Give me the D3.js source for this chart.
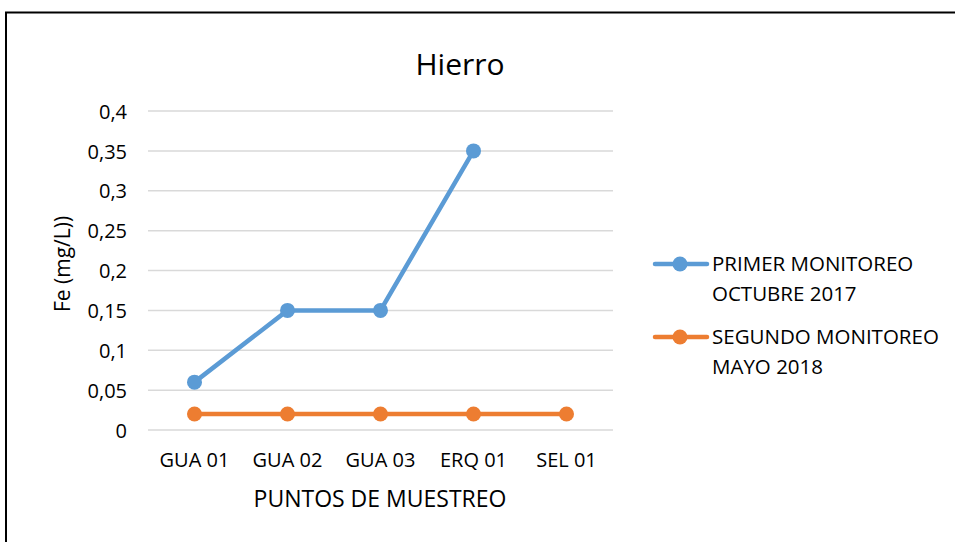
<!DOCTYPE html>
<html><head><meta charset="utf-8">
<script src="https://cdn.jsdelivr.net/npm/d3@7"></script>
<style>body{margin:0;background:#fff}svg{display:block}text{font-family:"Open Sans","Noto Sans",sans-serif;fill:#000}</style>
</head><body><svg id="c" width="955" height="542"></svg>
<script>
const categories = ["GUA 01","GUA 02","GUA 03","ERQ 01","SEL 01"];
const primer = [0.06, 0.15, 0.15, 0.35, null];
const segundo = [0.02, 0.02, 0.02, 0.02, 0.02];
const yTicks = [0,0.05,0.1,0.15,0.2,0.25,0.3,0.35,0.4];
const seriesNames = [["PRIMER MONITOREO","OCTUBRE 2017"],["SEGUNDO MONITOREO","MAYO 2018"]];
const colors = ["#5B9BD5","#ED7D31"];

const svg = d3.select("#c");
svg.append("rect").attr("x",6).attr("y",12.5).attr("width",960).attr("height",540)
  .attr("fill","none").attr("stroke","#000").attr("stroke-width",2);

const x = d3.scaleBand().domain(categories).range([148,613]);
const y = d3.scaleLinear().domain([0,0.4]).range([430,111]);
const fmt = d => String(d).replace(".",",");

svg.append("g").selectAll("line").data(yTicks).join("line")
  .attr("x1",148).attr("x2",613).attr("y1",d=>y(d)).attr("y2",d=>y(d))
  .attr("stroke","#d9d9d9").attr("stroke-width",1.5);

const yAxis = svg.append("g").attr("transform","translate(148,0)")
  .call(d3.axisLeft(y).tickValues(yTicks).tickFormat(fmt).tickSize(0).tickPadding(21));
yAxis.select(".domain").remove();
yAxis.selectAll("text").attr("font-size",20).style("font-family",null).attr("dy","0.36em");

const xAxis = svg.append("g").attr("transform","translate(0,430)")
  .call(d3.axisBottom(x).tickSize(0).tickPadding(23));
xAxis.select(".domain").remove();
xAxis.selectAll("text").attr("font-size",20).style("font-family",null);

svg.append("text").attr("x",460).attr("y",75).attr("text-anchor","middle").attr("font-size",30).text("Hierro");
svg.append("text").attr("x",380).attr("y",507).attr("text-anchor","middle").attr("font-size",23).text("PUNTOS DE MUESTREO");
svg.append("text").attr("transform","translate(70,264) rotate(-90)").attr("text-anchor","middle").attr("font-size",21).text("Fe (mg/L))");

const cx = d => x(d) + x.bandwidth()/2;
[primer, segundo].forEach((vals,i)=>{
  const pts = categories.map((c,j)=>({c,v:vals[j]})).filter(p=>p.v!=null);
  svg.append("path").datum(pts)
    .attr("d", d3.line().x(p=>cx(p.c)).y(p=>y(p.v)))
    .attr("fill","none").attr("stroke",colors[i]).attr("stroke-width",4.5).attr("stroke-linejoin","round");
  svg.append("g").selectAll("circle").data(pts).join("circle")
    .attr("cx",p=>cx(p.c)).attr("cy",p=>y(p.v)).attr("r",7.5).attr("fill",colors[i]);
});

const lg = svg.append("g");
seriesNames.forEach((n,i)=>{
  const yy = 264 + i*73;
  lg.append("line").attr("x1",655).attr("x2",707).attr("y1",yy).attr("y2",yy)
    .attr("stroke",colors[i]).attr("stroke-width",4.5).attr("stroke-linecap","round");
  lg.append("circle").attr("cx",680).attr("cy",yy).attr("r",7.5).attr("fill",colors[i]);
  n.forEach((t,k)=>lg.append("text").attr("x",712).attr("y",yy+7+k*30).attr("font-size",20.5).text(t));
});
</script></body></html>
